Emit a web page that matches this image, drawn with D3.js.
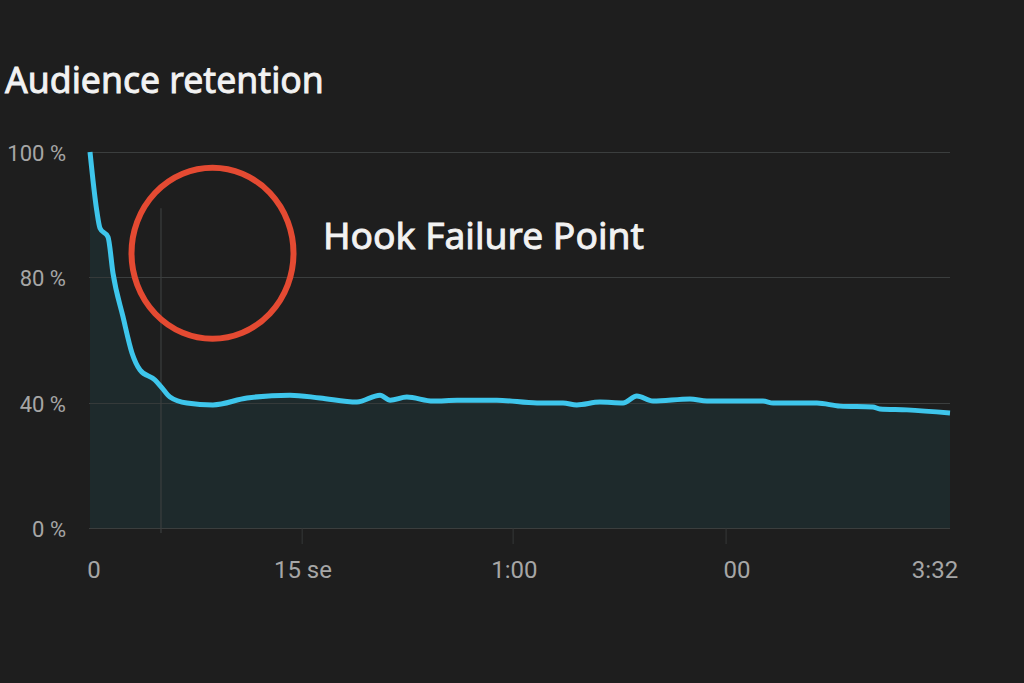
<!DOCTYPE html>
<html>
<head>
<meta charset="utf-8">
<script src="https://cdn.jsdelivr.net/npm/d3@7"></script>
<style>
  html, body { margin: 0; padding: 0; background: #1e1e1e; }
  svg { display: block; }
</style>
</head>
<body>
<script>
// ---- data ----
const seconds = [0, 1.65, 2.47, 4.44, 5.67, 8.13, 10.35, 12.33, 16.02, 17.75, 19.72, 23.9, 30.3, 38.7, 49.3, 56.7, 65.8, 71.5, 74.0, 78.1, 84.6, 90.5, 100.3, 110.2, 116.6, 120.0, 125.7, 131.4, 134.8, 138.8, 147.9, 152.1, 165.9, 168.4, 174.3, 179.2, 184.9, 193.0, 194.7, 201.4, 212];
const retention = [100, 90.7, 87.8, 86.4, 80.6, 67.4, 55.9, 50.5, 47.3, 44.8, 41.9, 40.0, 39.4, 41.6, 42.5, 41.6, 40.3, 42.5, 40.9, 41.9, 40.6, 40.9, 40.9, 40.0, 40.0, 39.4, 40.3, 40.0, 42.2, 40.6, 41.3, 40.6, 40.6, 40.0, 40.0, 40.0, 39.0, 38.7, 38.1, 37.8, 36.8];
const yTickValues = [100, 80, 40, 0];
const yTickLabels = ["100 %", "80 %", "40 %", "0 %"];
const xTickSeconds = [1, 52.5, 104.6, 159.5, 208.3];
const xTickLabels = ["0", "15 se", "1:00", "00", "3:32"];
const xTickMarkSeconds = [52.3, 104.3, 156.8];
const hookSecond = 17.5;
const hookCircleCenter = [30.2, 83.8]; // seconds, percent
const titleText = "Audience retention";
const annotationText = "Hook Failure Point";

// ---- layout ----
const W = 1024, H = 683;
const svg = d3.select("body").append("svg").attr("width", W).attr("height", H);
svg.append("rect").attr("width", W).attr("height", H).attr("fill", "#1e1e1e");

const x = d3.scaleLinear().domain([0, 212]).range([90, 950]);
const y = d3.scaleLinear().domain([0, 40, 80, 100]).range([528, 403, 277, 152]);

// gridlines
svg.append("g").selectAll("line").data(yTickValues).join("line")
  .attr("x1", 89).attr("x2", 950)
  .attr("y1", d => y(d) + 0.5).attr("y2", d => y(d) + 0.5)
  .attr("stroke", "#3b3e3e").attr("stroke-width", 1.2);

// area
const pts = seconds.map((s, i) => [s, retention[i]]);
svg.append("path").datum(pts)
  .attr("d", d3.area().x(d => x(d[0])).y0(y(0)).y1(d => y(d[1])).curve(d3.curveMonotoneX))
  .attr("fill", "#1e2a2c");

// redraw grid lines faintly over the fill
svg.append("g").selectAll("line").data(yTickValues).join("line")
  .attr("x1", 89).attr("x2", 950)
  .attr("y1", d => y(d) + 0.5).attr("y2", d => y(d) + 0.5)
  .attr("stroke", "#3b3e3e").attr("stroke-width", 1.2).attr("opacity", 0.8);

// hook vertical line
svg.append("line")
  .attr("x1", x(hookSecond)).attr("x2", x(hookSecond))
  .attr("y1", y(91)).attr("y2", y(0) + 5)
  .attr("stroke", "#3b3e3e").attr("stroke-width", 1.2);

// bottom tick marks
svg.append("g").selectAll("line").data(xTickMarkSeconds).join("line")
  .attr("x1", d => x(d)).attr("x2", d => x(d))
  .attr("y1", y(0)).attr("y2", y(0) + 16)
  .attr("stroke", "#353838").attr("stroke-width", 1);

// line
svg.append("path").datum(pts)
  .attr("d", d3.line().x(d => x(d[0])).y(d => y(d[1])).curve(d3.curveMonotoneX))
  .attr("fill", "none").attr("stroke", "#3ec6ec").attr("stroke-width", 5)
  .attr("stroke-linejoin", "round").attr("stroke-linecap", "butt");

// y labels
svg.append("g").selectAll("text").data(yTickValues).join("text")
  .attr("x", 66).attr("y", d => y(d) + 8.5)
  .attr("text-anchor", "end")
  .attr("font-family", "Roboto, sans-serif").attr("font-size", 22)
  .attr("fill", "#a6a6a6")
  .text((d, i) => yTickLabels[i]);

// x labels
svg.append("g").selectAll("text").data(xTickSeconds).join("text")
  .attr("x", d => x(d)).attr("y", 578)
  .attr("text-anchor", "middle")
  .attr("font-family", "Roboto, sans-serif").attr("font-size", 24)
  .attr("fill", "#a6a6a6")
  .text((d, i) => xTickLabels[i]);

// circle annotation
svg.append("ellipse")
  .attr("cx", x(hookCircleCenter[0])).attr("cy", y(hookCircleCenter[1]))
  .attr("rx", 81).attr("ry", 85.5)
  .attr("fill", "none").attr("stroke", "#e44a32").attr("stroke-width", 6);

function fit(sel, targetW) {
  const w = sel.node().getComputedTextLength();
  const fs = parseFloat(sel.attr("font-size"));
  sel.attr("font-size", fs * targetW / w);
}

const title = svg.append("text")
  .attr("x", 5).attr("y", 93)
  .attr("font-family", "'Noto Sans', sans-serif").attr("font-weight", 400)
  .attr("font-size", 40).attr("fill", "#f2f2f2")
  .attr("stroke", "#f2f2f2").attr("stroke-width", 0.9)
  .text(titleText);
fit(title, 319);

const ann = svg.append("text")
  .attr("x", 323).attr("y", 249)
  .attr("font-family", "'Noto Sans', sans-serif").attr("font-weight", 400)
  .attr("font-size", 36).attr("fill", "#f2f2f2")
  .attr("stroke", "#f2f2f2").attr("stroke-width", 0.9)
  .text(annotationText);
fit(ann, 321);
</script>
</body>
</html>
